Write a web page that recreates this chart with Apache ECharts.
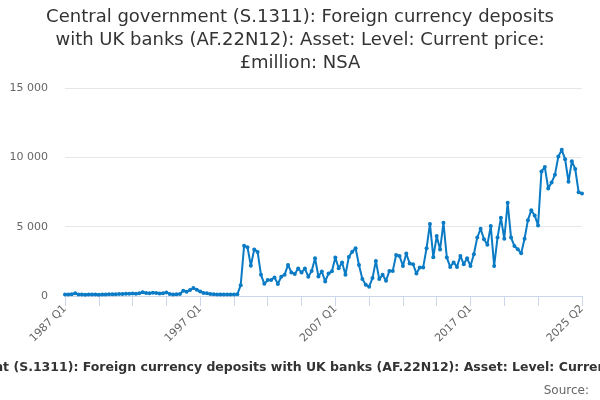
<!DOCTYPE html>
<html>
<head>
<meta charset="utf-8">
<script src="https://cdn.jsdelivr.net/npm/echarts@6/dist/echarts.min.js"></script>
<style>html,body{margin:0;padding:0;background:#fff}#c{width:600px;height:400px}</style>
</head>
<body>
<div id="c"></div>
<script>
const titleText = 'Central government (S.1311): Foreign currency deposits\nwith UK banks (AF.22N12): Asset: Level: Current price:\n£million: NSA';
const seriesName = 'Central government (S.1311): Foreign currency deposits with UK banks (AF.22N12): Asset: Level: Current price: £million: NSA';
const startYear = 1987;
const endYear = 2025;
const endQuarter = 2;
const categories = [];
for (let y = startYear; y <= endYear; y++) {
  for (let q = 1; q <= 4; q++) {
    if (y === endYear && q > endQuarter) break;
    categories.push(y + ' Q' + q);
  }
}
const values1987to2000 = [110,100,120,190,100,110,90,100,110,100,90,100,110,120,130,130,140,150,160,170,180,170,190,270,220,200,230,210,180,200,260,150,110,120,140,380,310,430,570,450,330,220,190,150,120,110,100,100,110,100,110,120,780];
const values2000to2013 = [3620,3520,2180,3360,3180,1530,880,1150,1150,1340,870,1390,1540,2240,1700,1580,1980,1700,1980,1390,1810,2720,1410,1770,1050,1630,1780,2770,2000,2420,1530,2820,3200,3440,2240,1220,810,670,1290,2530,1220,1530,1100,1810,1810,2960,2890,2170,3060,2340,2290,1630,2060,2060,3440];
const values2014to2025 = [5200,2800,4320,3350,5280,2770,2100,2420,2100,2890,2290,2720,2170,3010,4210,4850,4090,3700,5040,2170,4210,5640,4130,6720,4210,3610,3370,3080,4130,5470,6190,5810,5090,8980,9300,7760,8180,8750,10060,10540,9870,8240,9710,9160,7490,7390];
const values = values1987to2000.concat(values2000to2013, values2014to2025);
const yTicks = [0, 5000, 10000, 15000];
const labelIdx = [0, 40, 80, 120, categories.length - 1];

const chart = echarts.init(document.getElementById('c'), null, {renderer: 'canvas'});
const fmt = v => String(v).replace(/\B(?=(\d{3})+(?!\d))/g, ' ');
chart.setOption({
  animation: false,
  backgroundColor: '#ffffff',
  graphic: [{
    type: 'text',
    x: 300, y: 6,
    style: {
      text: titleText,
      align: 'center', verticalAlign: 'top',
      font: 'normal 18px "DejaVu Sans"',
      lineHeight: 23,
      fill: '#333333'
    }
  }, {
    type: 'text',
    x: 312, y: 368,
    style: {
      text: seriesName,
      align: 'center', verticalAlign: 'middle',
      font: 'bold 12.5px "DejaVu Sans"',
      fill: '#333333'
    }
  }, {
    type: 'text',
    x: 589, y: 391,
    style: {
      text: 'Source:',
      align: 'right', verticalAlign: 'middle',
      font: 'normal 12px "DejaVu Sans"',
      fill: '#666666'
    }
  }],
  grid: {left: 65, right: 18, top: 88, bottom: 104, containLabel: false, outerBoundsMode: 'none'},
  xAxis: {
    type: 'category',
    data: categories,
    boundaryGap: false,
    axisLine: {lineStyle: {color: '#ccd6eb', width: 1}},
    axisTick: {
      show: true, length: 10, lineStyle: {color: '#ccd6eb'},
      interval: (i) => (i % 10 === 0 && i <= 140) || i === categories.length - 1
    },
    axisLabel: {
      rotate: 45,
      fontFamily: 'DejaVu Sans', fontSize: 11, color: '#666666', margin: 11,
      interval: (i) => labelIdx.indexOf(i) >= 0
    },
    splitLine: {show: false}
  },
  yAxis: {
    type: 'value',
    min: yTicks[0],
    max: yTicks[yTicks.length - 1],
    interval: yTicks[1] - yTicks[0],
    axisLine: {show: false},
    axisTick: {show: false},
    axisLabel: {fontFamily: 'DejaVu Sans', fontSize: 11, color: '#666666', margin: 17, padding: [5, 0, 0, 0], formatter: fmt},
    splitLine: {lineStyle: {color: '#e6e6e6', width: 1}}
  },
  series: [{
    type: 'line',
    name: seriesName,
    data: values,
    showSymbol: true,
    showAllSymbol: true,
    symbol: 'circle',
    symbolSize: 4,
    itemStyle: {color: '#0a7bc4'},
    lineStyle: {color: '#0a7bc4', width: 2}
  }]
});
</script>
</body>
</html>
